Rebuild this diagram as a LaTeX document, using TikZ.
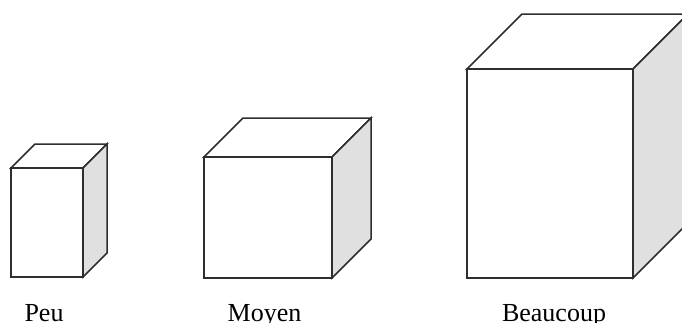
\documentclass[tikz,border=0pt]{standalone}
\usepackage{fontspec}
\setmainfont{Liberation Serif}
\newcommand{\mycube}[5]{%
  % #1,#2 = front top-left (px); #3 = width; #4 = height; #5 = depth
  \filldraw[cubeedge, fill=white] (#1,#2) -- ++(#5,-#5) -- ++(#3,0) -- ++(-#5,#5) -- cycle;
  \filldraw[cubeedge, cubeside] (#1+#3,#2) -- ++(#5,-#5) -- ++(0,#4) -- ++(-#5,#5) -- cycle;
  \filldraw[cubeedge, fill=white] (#1,#2) rectangle ++(#3,#4);
}
\begin{document}
\begin{tikzpicture}[x=1pt,y=-1pt,
  cubeedge/.style={draw=black!82, line width=1.5pt, line join=miter},
  cubeside/.style={fill=black!12},
  lbl/.style={font=\fontsize{26}{30}\selectfont, anchor=base, inner sep=0pt}]
\useasboundingbox (0,0) rectangle (682,322);
\begin{scope}
\clip (0,0) rectangle (682,322);
\mycube{11}{168}{72}{109}{24}
\mycube{204}{157}{128}{121}{39}
\mycube{467}{69}{166}{209}{55}
\end{scope}
\node[lbl] (peu) at (44,321) {Peu};
\node[lbl] (moyen) at (264.5,321) {Moyen};
\node[lbl] (beaucoup) at (554,321) {Beaucoup};
\end{tikzpicture}
\end{document}
